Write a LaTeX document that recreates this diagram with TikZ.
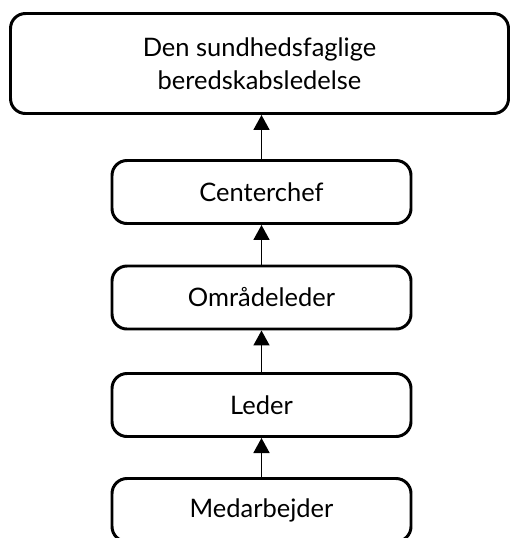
\documentclass[tikz,border=0pt]{standalone}
\usepackage{fontspec}
\setmainfont{Lato}
\usetikzlibrary{arrows.meta}
\begin{document}
\begin{tikzpicture}[
  level/.style={draw,line width=1.7pt,rounded corners=0.3cm,align=center,
    font=\fontsize{14.5}{18.5}\selectfont,minimum width=5.98cm,minimum height=1.26cm},
  up/.style={line width=0.95pt,-{Triangle[width=0.32cm,length=0.3cm]}}]
\useasboundingbox (0,0) rectangle (10.22,-10.76);
\node[level,minimum width=9.96cm,minimum height=2cm] (ledelse) at (5.19,-1.27) {Den sundhedsfaglige\\ beredskabsledelse};
\node[level] (chef) at (5.23,-3.84) {Centerchef};
\node[level] (omr) at (5.23,-5.95) {Områdeleder};
\node[level] (leder) at (5.23,-8.1) {Leder};
\node[level] (medarb) at (5.23,-10.2) {Medarbejder};
\draw[up] (chef.north) -- (chef.north |- ledelse.south);
\draw[up] (omr) -- (chef);
\draw[up] (leder) -- (omr);
\draw[up] (medarb) -- (leder);
\end{tikzpicture}
\end{document}
